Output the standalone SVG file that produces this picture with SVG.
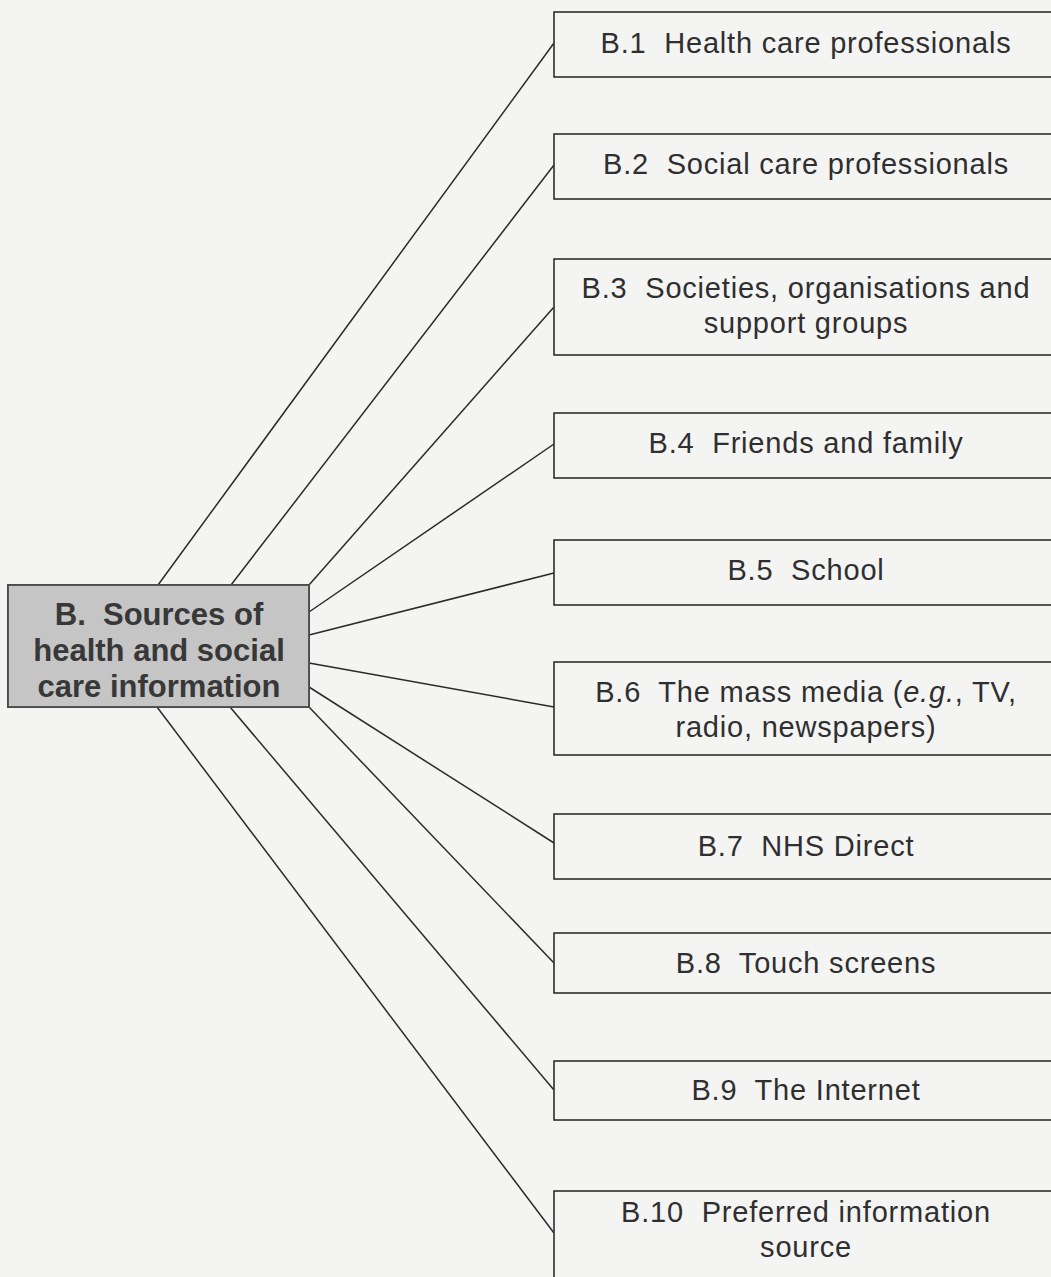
<svg xmlns="http://www.w3.org/2000/svg" width="1051" height="1277" viewBox="0 0 1051 1277">
  <style>
    .leaf rect { fill: #f4f4f3; stroke: #2e2e2e; stroke-width: 1.6; }
    .leaf text { font-family: "Liberation Sans", Arial, sans-serif; font-size: 29px; letter-spacing: 0.8px; fill: #2f2f2f; text-anchor: middle; }
    .link { stroke: #2a2a2a; stroke-width: 1.5; fill: none; }
    .hub rect { fill: #c8c8c8; stroke: #4a4a4a; stroke-width: 1.8; }
    .hub text { font-family: "Liberation Sans", Arial, sans-serif; font-size: 31px; font-weight: bold; fill: #383838; text-anchor: middle; }
  </style>
  <defs>
    <filter id="grain" x="0" y="0" width="1" height="1">
      <feTurbulence type="fractalNoise" baseFrequency="0.9" numOctaves="2" seed="3" result="noise"/>
      <feColorMatrix in="noise" type="matrix" values="0 0 0 0 0.4  0 0 0 0 0.4  0 0 0 0 0.4  0 0 0 0.18 0" result="speck"/>
      <feComposite in="speck" in2="SourceGraphic" operator="atop"/>
    </filter>
  </defs>

  <rect width="1051" height="1277" fill="#f4f4f3"/>

  <!-- connectors from the hub to each source -->
  <g id="connectors">
    <line class="link" x1="158" y1="585" x2="554" y2="43"/>
    <line class="link" x1="231" y1="585" x2="554" y2="165"/>
    <line class="link" x1="309" y1="585" x2="554" y2="307"/>
    <line class="link" x1="309" y1="612" x2="554" y2="444"/>
    <line class="link" x1="309" y1="635" x2="554" y2="573"/>
    <line class="link" x1="309" y1="663" x2="554" y2="707"/>
    <line class="link" x1="309" y1="687" x2="554" y2="843"/>
    <line class="link" x1="309" y1="707" x2="554" y2="963"/>
    <line class="link" x1="230" y1="707" x2="554" y2="1090"/>
    <line class="link" x1="157" y1="707" x2="554" y2="1233"/>
  </g>

  <!-- hub node -->
  <g id="hub" class="hub">
    <rect x="8" y="585" width="301" height="122"/>
    <rect x="8" y="585" width="301" height="122" filter="url(#grain)" style="stroke:none"/>
    <rect x="8" y="585" width="301" height="122" style="fill:none"/>
    <text x="159" y="625" xml:space="preserve">B.  Sources of</text>
    <text x="159" y="661">health and social</text>
    <text x="159" y="697">care information</text>
  </g>

  <!-- source nodes -->
  <g id="b1" class="leaf">
    <rect x="554" y="12" width="510" height="65"/>
    <text x="806" y="53" xml:space="preserve">B.1  Health care professionals</text>
  </g>
  <g id="b2" class="leaf">
    <rect x="554" y="134" width="510" height="65"/>
    <text x="806" y="174" xml:space="preserve">B.2  Social care professionals</text>
  </g>
  <g id="b3" class="leaf">
    <rect x="554" y="259" width="510" height="96"/>
    <text x="806" y="298" xml:space="preserve">B.3  Societies, organisations and</text>
    <text x="806" y="333">support groups</text>
  </g>
  <g id="b4" class="leaf">
    <rect x="554" y="413" width="510" height="65"/>
    <text x="806" y="453" xml:space="preserve">B.4  Friends and family</text>
  </g>
  <g id="b5" class="leaf">
    <rect x="554" y="540" width="510" height="65"/>
    <text x="806" y="580" xml:space="preserve">B.5  School</text>
  </g>
  <g id="b6" class="leaf">
    <rect x="554" y="662" width="510" height="93"/>
    <text x="806" y="702" xml:space="preserve">B.6  The mass media (<tspan font-style="italic">e.g.</tspan>, TV,</text>
    <text x="806" y="737">radio, newspapers)</text>
  </g>
  <g id="b7" class="leaf">
    <rect x="554" y="814" width="510" height="65"/>
    <text x="806" y="856" xml:space="preserve">B.7  NHS Direct</text>
  </g>
  <g id="b8" class="leaf">
    <rect x="554" y="933" width="510" height="60"/>
    <text x="806" y="973" xml:space="preserve">B.8  Touch screens</text>
  </g>
  <g id="b9" class="leaf">
    <rect x="554" y="1061" width="510" height="59"/>
    <text x="806" y="1100" xml:space="preserve">B.9  The Internet</text>
  </g>
  <g id="b10" class="leaf">
    <rect x="554" y="1191" width="510" height="110"/>
    <text x="806" y="1222" xml:space="preserve">B.10  Preferred information</text>
    <text x="806" y="1257">source</text>
  </g>
</svg>
